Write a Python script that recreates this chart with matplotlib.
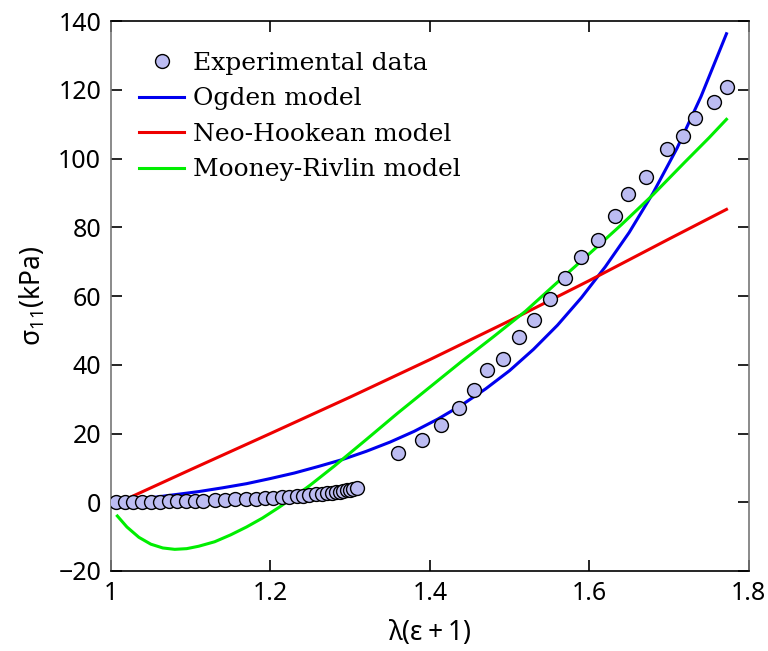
import numpy as np
import matplotlib
matplotlib.use("Agg")
from matplotlib import pyplot as plt

plt.rcParams['mathtext.default'] = 'regular'

# experimental data
exp_x = [1.006, 1.018, 1.028, 1.039, 1.050, 1.061, 1.073, 1.083, 1.094, 1.105,
         1.116, 1.130, 1.143, 1.155, 1.169, 1.182, 1.193, 1.203, 1.214, 1.223,
         1.233, 1.241, 1.248, 1.257, 1.265, 1.271, 1.277, 1.282, 1.287, 1.291,
         1.296, 1.300, 1.303, 1.308,
         1.360, 1.390, 1.414, 1.436, 1.455, 1.472, 1.492, 1.512, 1.531, 1.551,
         1.569, 1.589, 1.611, 1.632, 1.649, 1.671, 1.697, 1.717, 1.732, 1.756,
         1.773]
exp_y = [0.0, 0.0, 0.05, 0.1, 0.15, 0.2, 0.25, 0.3, 0.35, 0.4,
         0.5, 0.6, 0.7, 0.8, 0.9, 1.0, 1.2, 1.3, 1.5, 1.6,
         1.8, 1.9, 2.1, 2.3, 2.4, 2.6, 2.8, 3.0, 3.1, 3.3,
         3.5, 3.6, 3.8, 4.0,
         14.2, 18.0, 22.4, 27.5, 32.8, 38.4, 41.8, 48.0, 53.1, 59.1,
         65.1, 71.4, 76.4, 83.2, 89.6, 94.7, 102.9, 106.6, 111.8, 116.4,
         120.8]

# Ogden model
og_x = [1.02, 1.05, 1.08, 1.11, 1.14, 1.17, 1.20, 1.23, 1.26, 1.29,
        1.32, 1.35, 1.38, 1.41, 1.44, 1.47, 1.50, 1.53, 1.56, 1.59,
        1.62, 1.65, 1.68, 1.71, 1.74, 1.772]
og_y = [0.3, 1.3, 2.2, 3.1, 4.2, 5.4, 6.9, 8.5, 10.4, 12.4,
        14.8, 17.5, 20.6, 24.2, 28.3, 33.0, 38.3, 44.5, 51.5, 59.5,
        68.5, 78.5, 90.0, 103.0, 118.0, 136.3]

# Neo-Hookean model
nh_x = [1.02, 1.1, 1.2, 1.3, 1.4, 1.5, 1.6, 1.7, 1.772]
nh_y = [1.0, 9.5, 20.0, 30.6, 41.5, 52.8, 64.5, 76.6, 85.2]

# Mooney-Rivlin model
mr_x = [1.008, 1.02, 1.035, 1.05, 1.065, 1.08, 1.095, 1.11, 1.13, 1.15,
        1.17, 1.19, 1.21, 1.23, 1.25, 1.28, 1.32, 1.36, 1.40, 1.44,
        1.48, 1.52, 1.56, 1.60, 1.64, 1.68, 1.72, 1.75, 1.772]
mr_y = [-4.0, -7.2, -10.2, -12.2, -13.3, -13.7, -13.5, -12.8, -11.5, -9.5,
        -7.2, -4.6, -1.6, 1.6, 5.0, 10.5, 18.2, 26.0, 33.5, 41.0,
        48.2, 55.6, 64.0, 72.3, 80.7, 89.5, 99.0, 106.0, 111.4]

fig = plt.figure(figsize=(7.68, 6.51), dpi=100)
ax = fig.add_axes([0.1445, 0.1229, 0.8305, 0.8448])

ax.plot(exp_x, exp_y, 'o', ms=10, mfc='#bcbcf2', mec='black', mew=1.0,
        label='Experimental data', zorder=3)
ax.plot(og_x, og_y, color='#0000ee', lw=2.2, label='Ogden model')
ax.plot(nh_x, nh_y, color='#ee0000', lw=2.2, label='Neo-Hookean model')
ax.plot(mr_x, mr_y, color='#00ee00', lw=2.2, label='Mooney-Rivlin model')

ax.set_xlim(1, 1.8)
ax.set_ylim(-20, 140)
ax.set_xticks([1, 1.2, 1.4, 1.6, 1.8])
ax.set_xticklabels(['1', '1.2', '1.4', '1.6', '1.8'])
ax.set_yticks(np.arange(-20, 141, 20))
ax.set_yticklabels(['\u221220'] + [str(v) for v in range(0, 141, 20)])

ax.tick_params(direction='in', length=8, width=1.2, top=True, right=True,
               labelsize=18, pad=7)
for lbl in ax.get_xticklabels() + ax.get_yticklabels():
    lbl.set_family('Noto Sans')
ax.spines['left'].set_color('#777777')
ax.spines['right'].set_color('#777777')
for s in ax.spines.values():
    s.set_linewidth(1.2)

ax.set_xlabel(r'$\lambda(\epsilon + 1)$', fontsize=19, family='Noto Sans', labelpad=9)
ax.set_ylabel(r'$\sigma_{11}$(kPa)', fontsize=19, family='Noto Sans', labelpad=8)

leg = ax.legend(loc='upper left', frameon=False,
                prop={'family': 'DejaVu Serif', 'size': 18},
                handlelength=1.8, handletextpad=0.35, labelspacing=0.5,
                borderaxespad=0.0, bbox_to_anchor=(0.029, 0.962))

fig.savefig('out.png', dpi=100)
